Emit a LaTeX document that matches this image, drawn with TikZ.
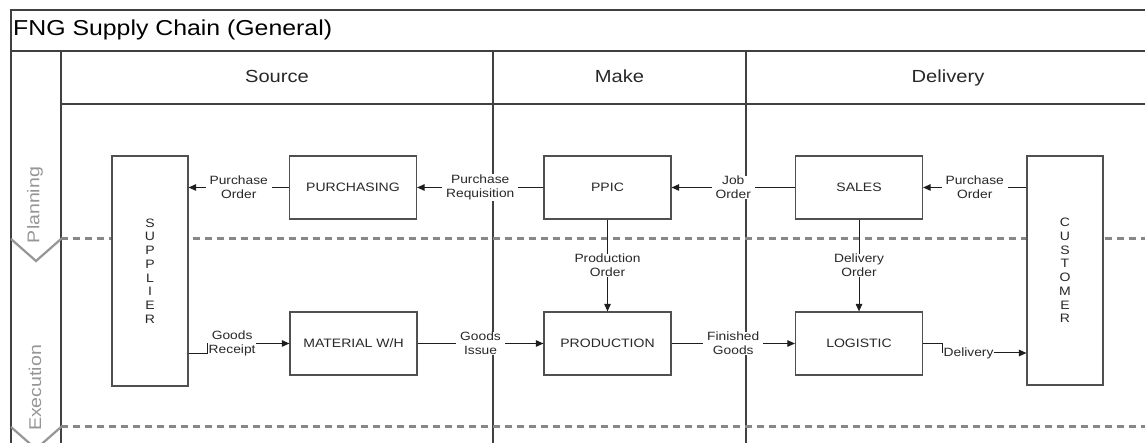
\documentclass[tikz,border=0pt]{standalone}
\usepackage{fontspec}
\setmainfont{Liberation Sans}[FakeStretch=1.15]
\usetikzlibrary{arrows.meta}

\newcommand{\titlesize}{\fontsize{21.6}{26}\selectfont}
\newcommand{\headsize}{\fontsize{17.5}{21}\selectfont}
\newcommand{\lanesize}{\fontsize{17}{20}\selectfont}
\newcommand{\boxsize}{\fontsize{12.2}{13.75}\selectfont}
\newcommand{\lblsize}{\fontsize{12}{14}\selectfont}

\begin{document}
\begin{tikzpicture}[x=1pt,y=1pt,
  stagebox/.style={draw=boxColor,line width=1.2pt,fill=white,inner sep=0pt,
    minimum width=127pt,minimum height=63pt,text=textColor,font=\boxsize},
  partybox/.style={stagebox,minimum width=76pt,minimum height=229pt,align=center},
  flow/.style={draw=flowColor,line width=1pt,-{Triangle[length=7.5pt,width=6.5pt]}},
  flowlabel/.style={fill=white,inner xsep=4pt,inner ysep=0.5pt,align=center,
    text=textColor,font=\lblsize},
  elbowlabel/.style={flowlabel,inner xsep=0.5pt},
  frameline/.style={draw=frameColor,line width=1.6pt},
  laneline/.style={draw=laneColor,line width=3pt,dash pattern=on 7pt off 5pt},
  chevron/.style={draw=chevColor,line width=2.2pt,line join=miter}]
\definecolor{fillColor}{RGB}{255,255,255}
\definecolor{frameColor}{RGB}{64,64,64}
\definecolor{boxColor}{RGB}{80,80,80}
\definecolor{flowColor}{RGB}{30,30,30}
\definecolor{textColor}{RGB}{40,40,40}
\definecolor{laneColor}{RGB}{135,135,135}
\definecolor{chevColor}{RGB}{150,150,150}
\definecolor{laneText}{RGB}{150,150,150}
\path[use as bounding box,fill=fillColor] (0,0) rectangle (1145,443);

% pool frame and title
\begin{scope}
\path[frameline] (11,0) -- (11,433) -- (1145,433);

\path[frameline,line width=2pt] (11,392) -- (1145,392);

\path[frameline] (61,392) -- (61,0);

\path[frameline,line width=1.3pt] (61,339) -- (1145,339);

\path[frameline,line width=1.3pt] (493,392) -- (493,0);

\path[frameline,line width=1.3pt] (746,392) -- (746,0);

\node[anchor=base west,inner sep=0pt,text=black,font=\titlesize] (title) at (13,407) {FNG Supply Chain (General)};

\node[anchor=base,inner sep=0pt,text=textColor,font=\headsize] (source) at (277,360) {Source};

\node[anchor=base,inner sep=0pt,text=textColor,font=\headsize] (make) at (619.5,360) {Make};

\node[anchor=base,inner sep=0pt,text=textColor,font=\headsize] (delivery) at (948,360) {Delivery};
\end{scope}

% lanes
\begin{scope}
\path[laneline] (61,204) -- (1145,204);

\path[laneline] (61,16) -- (1145,16);

\path[chevron] (11,204) -- (36,182) -- (61,204);

\path[chevron] (11,16) -- (36,-6) -- (61,16);

\node[rotate=90,inner sep=0pt,text=laneText,font=\lanesize] (planning) at (35,238) {Planning};

\node[rotate=90,inner sep=0pt,text=laneText,font=\lanesize] (execution) at (35,55) {Execution};
\end{scope}

% stages
\node[partybox,minimum height=230pt] (sup) at (150,172) {S\\U\\P\\P\\L\\I\\E\\R};
\node[partybox] (cus) at (1065,172.5) {C\\U\\S\\T\\O\\M\\E\\R};

\node[stagebox] (pur) at (353,255.5) {PURCHASING};
\node[stagebox] (ppic) at (607.5,255.5) {PPIC};
\node[stagebox] (sal) at (859,255.5) {SALES};

\node[stagebox] (mat) at (353.5,99.5) {MATERIAL W/H};
\node[stagebox] (pro) at (607.5,99.5) {PRODUCTION};
\node[stagebox] (log) at (859,99.5) {LOGISTIC};

% planning flows
\path[flow] (pur.west) -- (pur.west -| sup.east) node[flowlabel,midway] {Purchase\\Order};

\path[flow] (ppic.west) -- (pur.east) node[flowlabel,midway] {Purchase\\Requisition};

\path[flow] (sal.west) -- (ppic.east) node[flowlabel,midway] {Job\\Order};

\path[flow] (sal.east -| cus.west) -- (sal.east) node[flowlabel,midway] {Purchase\\Order};

\path[flow] (ppic.south) -- (pro.north) node[flowlabel,midway] {Production\\Order};

\path[flow] (sal.south) -- (log.north) node[flowlabel,midway] {Delivery\\Order};

% execution flows
\path[flow] ([yshift=-83pt]sup.east) -- ++(19,0) |- node[elbowlabel,pos=0.65] {Goods\\Receipt} (mat.west);

\path[flow] (mat.east) -- (pro.west) node[flowlabel,midway] {Goods\\Issue};

\path[flow] (pro.east) -- (log.west) node[flowlabel,midway] {Finished\\Goods};

\path[flow] (log.east) -- ++(19,0) |- node[elbowlabel,pos=0.657] {Delivery} ([yshift=-82.5pt]cus.west);
\end{tikzpicture}
\end{document}
